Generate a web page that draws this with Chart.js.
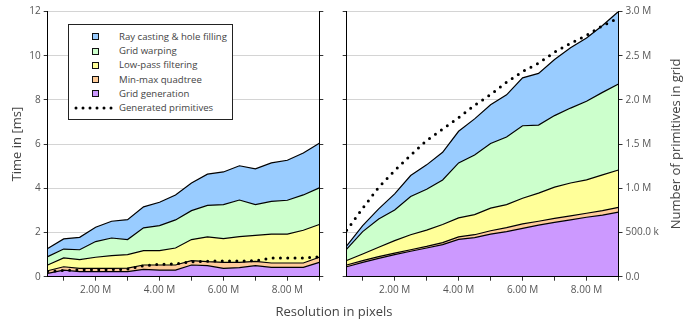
<!DOCTYPE html>
<html>
<head>
<meta charset="utf-8">
<script src="https://cdn.jsdelivr.net/npm/chart.js@4/dist/chart.umd.min.js"></script>
<style>
  body { margin: 0; background: #fff; }
  #wrap { position: relative; width: 691px; height: 320px; overflow: hidden; font-family: 'Open Sans', sans-serif; background: #fff; }
  canvas { position: absolute; top: 0; }
  #c1 { left: 0; }
  #c2 { left: 333px; }
  #xtitle { position: absolute; left: 234px; width: 200px; top: 302px; height: 18px; line-height: 18px; text-align: center; font-size: 13px; color: #444; }
  #ytitle2 { position: absolute; left: 575px; top: 135px; width: 200px; height: 18px; line-height: 18px; text-align: center; font-size: 13px; color: #444; transform: rotate(-90deg); transform-origin: 50% 50%; white-space: nowrap; }
  #legend { position: absolute; left: 68px; top: 24px; width: 165px; height: 96px; box-sizing: border-box; border: 1px solid #222; background: #fff; }
  .row { position: absolute; left: 0; width: 163px; height: 14px; }
  .sw { position: absolute; left: 23px; top: 3.5px; width: 7px; height: 7px; box-sizing: border-box; border: 1px solid #111; }
  .lt { position: absolute; left: 50px; top: 0; height: 14px; line-height: 14px; font-size: 9.6px; color: #444; white-space: nowrap; }
  .dots { position: absolute; left: 5px; top: 0; }
</style>
</head>
<body>
<div id="wrap">
  <canvas id="c1" width="333" height="320"></canvas>
  <canvas id="c2" width="358" height="320"></canvas>
  <div id="xtitle">Resolution in pixels</div>
  <div id="ytitle2">Number of primitives in grid</div>
  <div id="legend"></div>
</div>
<script>
// ---- data (times in ms, primitives as counts) ----
const resolution = [500000, 1000000, 1500000, 2000000, 2500000, 3000000, 3500000, 4000000, 4500000,
                    5000000, 5500000, 6000000, 6500000, 7000000, 7500000, 8000000, 8500000, 9000000];

const seriesNames = ['Grid generation', 'Min-max quadtree', 'Low-pass filtering', 'Grid warping', 'Ray casting & hole filling'];
const seriesColors = ['#cc99ff', '#ffcc99', '#ffff99', '#ccffcc', '#99ccff'];
const primitivesName = 'Generated primitives';

// left panel
const gridGenL  = [0.15, 0.30, 0.23, 0.23, 0.23, 0.23, 0.33, 0.30, 0.30, 0.53, 0.50, 0.38, 0.41, 0.50, 0.42, 0.42, 0.42, 0.65];
const quadL     = [0.12, 0.15, 0.15, 0.15, 0.15, 0.16, 0.20, 0.23, 0.23, 0.20, 0.18, 0.27, 0.24, 0.19, 0.20, 0.20, 0.20, 0.23];
const lowpassL  = [0.26, 0.40, 0.39, 0.50, 0.57, 0.61, 0.65, 0.65, 0.77, 0.95, 1.12, 1.07, 1.16, 1.18, 1.31, 1.31, 1.48, 1.48];
const warpL     = [0.38, 0.40, 0.45, 0.71, 0.80, 0.68, 1.03, 1.13, 1.27, 1.31, 1.43, 1.54, 1.66, 1.39, 1.48, 1.53, 1.60, 1.66];
const raycastL  = [0.37, 0.46, 0.56, 0.65, 0.76, 0.90, 0.95, 1.06, 1.13, 1.25, 1.41, 1.48, 1.55, 1.62, 1.74, 1.81, 1.90, 2.02];
const primitivesL = [60000, 70000, 78000, 80000, 80000, 85000, 125000, 140000, 145000,
                     170000, 175000, 178000, 178000, 180000, 210000, 212000, 213000, 225000];

// right panel
const gridGenR  = [0.45, 0.65, 0.83, 1.00, 1.15, 1.30, 1.45, 1.69, 1.77, 1.93, 2.04, 2.19, 2.33, 2.46, 2.57, 2.69, 2.79, 2.92];
const quadR     = [0.08, 0.08, 0.08, 0.07, 0.07, 0.07, 0.09, 0.11, 0.13, 0.15, 0.18, 0.20, 0.18, 0.18, 0.18, 0.18, 0.20, 0.22];
const lowpassR  = [0.20, 0.30, 0.42, 0.56, 0.68, 0.74, 0.82, 0.86, 0.91, 1.02, 1.04, 1.16, 1.27, 1.41, 1.49, 1.51, 1.62, 1.69];
const warpR     = [0.52, 1.01, 1.28, 1.39, 1.73, 1.85, 2.02, 2.49, 2.70, 2.93, 3.06, 3.28, 3.08, 3.24, 3.39, 3.56, 3.73, 3.89];
const raycastR  = [0.15, 0.27, 0.46, 0.73, 0.95, 1.10, 1.25, 1.43, 1.63, 1.75, 1.91, 2.17, 2.34, 2.54, 2.73, 2.86, 3.03, 3.28];
const primitivesR = [525000, 775000, 1010000, 1200000, 1375000, 1540000, 1670000, 1800000, 1940000,
                     2060000, 2200000, 2320000, 2415000, 2540000, 2640000, 2730000, 2840000, 2925000];

// tick labels
const xTicks = [1000000, 2000000, 3000000, 4000000, 5000000, 6000000, 7000000, 8000000, 9000000];
const xTickLabels = ['', '2.00 M', '', '4.00 M', '', '6.00 M', '', '8.00 M', ''];
const timeTicks = [0, 2, 4, 6, 8, 10, 12];
const primTicks = [0, 500000, 1000000, 1500000, 2000000, 2500000, 3000000];
const primTickLabels = ['0.0', '500.0 k', '1.0 M', '1.5 M', '2.0 M', '2.5 M', '3.0 M'];

// ---- chart setup ----
const FONT = "'Open Sans', sans-serif";
const tickFont = { family: FONT, size: 10 };
const tickColor = '#555';
const markColor = '#333';

function pts(arr) { return resolution.map((x, i) => ({ x: x, y: arr[i] })); }

function buildDatasets(stackArrays, prim) {
  const ds = stackArrays.map((arr, k) => ({
    label: seriesNames[k],
    data: pts(arr),
    yAxisID: 'y',
    backgroundColor: seriesColors[k],
    borderColor: '#000',
    borderWidth: 1.2,
    pointRadius: 0,
    tension: 0,
    fill: k === 0 ? 'origin' : '-1'
  }));
  ds.push({
    label: primitivesName,
    data: pts(prim),
    yAxisID: 'y2',
    borderColor: '#000',
    borderWidth: 3,
    borderDash: [0, 7.3],
    borderCapStyle: 'round',
    pointRadius: 0,
    tension: 0,
    fill: false,
    order: -1
  });
  return ds;
}

function xScale() {
  return {
    type: 'linear', min: 500000, max: 9000000,
    afterBuildTicks: s => { s.ticks = xTicks.map(v => ({ value: v })); },
    ticks: { autoSkip: false, maxRotation: 0, padding: 3, font: tickFont, color: tickColor,
             callback: v => { const i = xTicks.indexOf(v); return i >= 0 ? xTickLabels[i] : ''; } },
    grid: { drawOnChartArea: false, tickLength: 4, tickColor: markColor },
    border: { color: '#000', z: 1 },
    afterFit: s => { s.height = 43.3; }
  };
}

function timeScale(showLabels, width) {
  const sc = {
    position: 'left', stacked: true, min: 0, max: 12,
    afterBuildTicks: s => { s.ticks = timeTicks.map(v => ({ value: v })); },
    ticks: { display: showLabels, font: tickFont, color: tickColor, padding: 3 },
    grid: { color: '#d4d4d4', lineWidth: 1, tickLength: 4, tickColor: markColor },
    border: { color: '#000', z: 1 },
    afterFit: s => { s.width = width; }
  };
  if (showLabels) {
    sc.title = { display: true, text: 'Time in [ms]', font: { family: FONT, size: 13 }, color: '#444', padding: { top: 9, bottom: 0 } };
  }
  return sc;
}

function primScale(showLabels, width) {
  return {
    position: 'right', min: 0, max: 3000000,
    afterBuildTicks: s => { s.ticks = primTicks.map(v => ({ value: v })); },
    ticks: { display: showLabels, font: tickFont, color: tickColor, padding: 3,
             callback: v => { const i = primTicks.indexOf(v); return i >= 0 ? primTickLabels[i] : ''; } },
    grid: { drawOnChartArea: false, tickLength: 4, tickColor: markColor },
    border: { color: '#000', z: 1 },
    afterFit: s => { s.width = width; }
  };
}

function makeChart(id, stackArrays, prim, leftWidth, rightWidth, leftLabels, rightLabels) {
  return new Chart(document.getElementById(id), {
    type: 'line',
    data: { datasets: buildDatasets(stackArrays, prim) },
    options: {
      responsive: false, animation: false, devicePixelRatio: 1,
      layout: { padding: { top: 11.5, left: 0, right: 0, bottom: 0 } },
      plugins: { legend: { display: false }, tooltip: { enabled: false }, filler: { propagate: false } },
      scales: {
        x: xScale(),
        y: timeScale(leftLabels, leftWidth),
        y2: primScale(rightLabels, rightWidth)
      }
    }
  });
}

makeChart('c1', [gridGenL, quadL, lowpassL, warpL, raycastL], primitivesL, 47.7, 13.7, true, false);
makeChart('c2', [gridGenR, quadR, lowpassR, warpR, raycastR], primitivesR, 13.7, 72.5, false, true);

// ---- legend (HTML) ----
const legend = document.getElementById('legend');
const legendOrder = [4, 3, 2, 1, 0];
const rowTops = [4.7, 19, 33.3, 47.6, 61.9, 76.2];
legendOrder.forEach((k, r) => {
  const row = document.createElement('div');
  row.className = 'row';
  row.style.top = rowTops[r] + 'px';
  const sw = document.createElement('span');
  sw.className = 'sw';
  sw.style.background = seriesColors[k];
  const t = document.createElement('span');
  t.className = 'lt';
  t.textContent = seriesNames[k];
  row.appendChild(sw); row.appendChild(t);
  legend.appendChild(row);
});
const prow = document.createElement('div');
prow.className = 'row';
prow.style.top = rowTops[5] + 'px';
prow.innerHTML = '<svg class="dots" width="40" height="14"><line x1="2" y1="7" x2="38" y2="7" stroke="#000" stroke-width="3" stroke-linecap="round" stroke-dasharray="0 7"/></svg>';
const pt = document.createElement('span');
pt.className = 'lt';
pt.textContent = primitivesName;
prow.appendChild(pt);
legend.appendChild(prow);
</script>
</body>
</html>
